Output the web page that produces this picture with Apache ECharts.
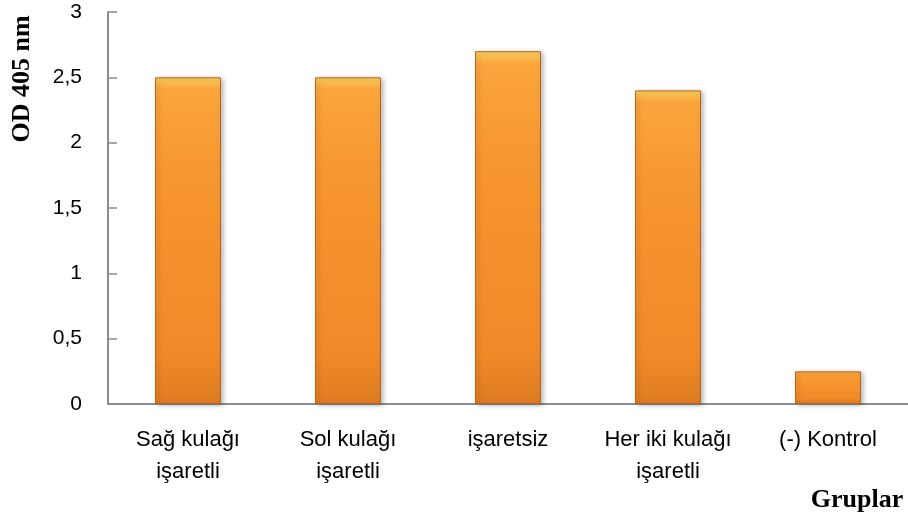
<!DOCTYPE html>
<html>
<head>
<meta charset="utf-8">
<script src="https://cdn.jsdelivr.net/npm/echarts@6/dist/echarts.min.js"></script>
<style>
  html, body { margin: 0; padding: 0; background: #fff; }
  #chart { width: 908px; height: 529px; }
</style>
</head>
<body>
<div id="chart"></div>
<script>
  // gruplar ve OD degerleri
  var groups = ['Sağ kulağı\nişaretli', 'Sol kulağı\nişaretli', 'işaretsiz', 'Her iki kulağı\nişaretli', '(-) Kontrol'];
  var odValues = [2.5, 2.5, 2.7, 2.4, 0.25];
  var yTicks = [0, 0.5, 1, 1.5, 2, 2.5, 3];

  var app = echarts.init(document.getElementById('chart'));

  var barFill = new echarts.graphic.LinearGradient(0, 0, 0, 1, [
    { offset: 0, color: '#FDD25E' },
    { offset: 0.035, color: '#F9A63C' },
    { offset: 0.3, color: '#F8962F' },
    { offset: 0.85, color: '#F08A28' },
    { offset: 1, color: '#DF7B22' }
  ]);

  var option = {
    animation: false,
    grid: { left: 108, top: 12, width: 802, height: 392 },
    xAxis: {
      type: 'category',
      data: groups,
      axisLine: { lineStyle: { color: '#8c8c8c', width: 2 } },
      axisTick: { inside: true, length: 8, lineStyle: { color: '#8c8c8c', width: 1.5 } },
      axisLabel: {
        color: '#000', fontFamily: 'Liberation Sans', fontSize: 22,
        lineHeight: 32, margin: 20, interval: 0
      }
    },
    yAxis: {
      type: 'value',
      min: 0, max: 3, interval: 0.5,
      splitLine: { show: false },
      axisLine: { show: true, lineStyle: { color: '#8c8c8c', width: 2 } },
      axisTick: { show: true, inside: true, length: 9, lineStyle: { color: '#8c8c8c', width: 1.5 } },
      axisLabel: {
        color: '#000', fontFamily: 'Liberation Sans', fontSize: 21, margin: 26,
        formatter: function (v) {
          return yTicks.indexOf(v) >= 0 ? String(v).replace('.', ',') : '';
        }
      }
    },
    series: [{
      type: 'bar',
      data: odValues,
      barWidth: 66,
      itemStyle: {
        color: barFill,
        borderColor: '#B9661E',
        borderWidth: 1,
        shadowBlur: 5,
        shadowColor: 'rgba(0,0,0,0.3)',
        shadowOffsetX: 2,
        shadowOffsetY: 1
      }
    }],
    graphic: [
      {
        type: 'text', x: 22, y: 79, rotation: Math.PI / 2,
        style: {
          text: 'OD 405 nm', font: 'bold 26px "Liberation Serif"',
          fill: '#000', align: 'center', verticalAlign: 'middle'
        }
      },
      {
        type: 'text', x: 857, y: 500,
        style: {
          text: 'Gruplar', font: 'bold 26px "Liberation Serif"',
          fill: '#000', align: 'center', verticalAlign: 'middle'
        }
      }
    ]
  };

  app.setOption(option);
</script>
</body>
</html>
